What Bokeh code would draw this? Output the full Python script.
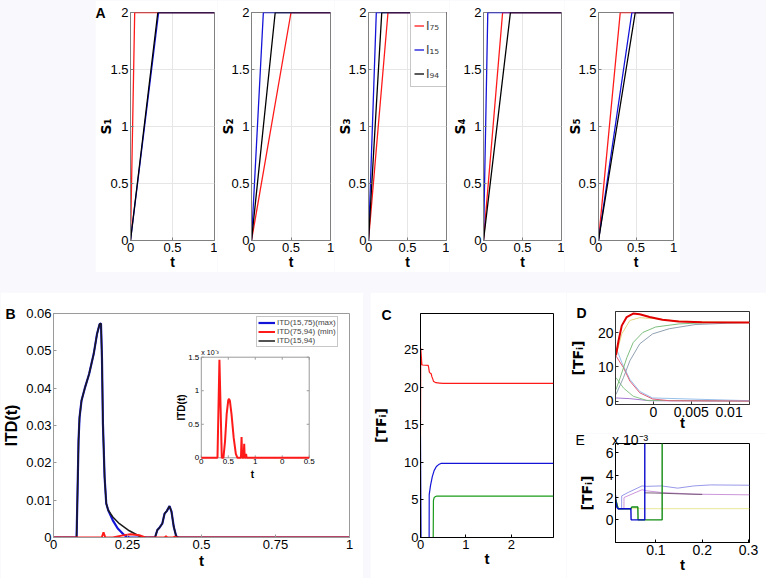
import math
from bokeh.plotting import figure
from bokeh.models import Range1d, Legend, LegendItem, FixedTicker, Spacer, Title
from bokeh.layouts import row, column
from bokeh.embed import file_html
from bokeh.resources import INLINE
from bokeh.core.properties import value

FONT = "Liberation Sans"
SUBFONT = "DejaVu Sans"
LAV = "#F8F8FD"
RED = "#FF1A1A"
BLUE = "#1414D8"
BLACK = "#000000"
GREEN = "#1A9A1A"

# ======================= DATA =======================
# ---- Panel A: S_k(t) for three inputs, five subplots ----
A_names = ["I\u2087\u2085", "I\u2081\u2085", "I\u2089\u2084"]
A_ylabels = ["S\u2081", "S\u2082", "S\u2083", "S\u2084", "S\u2085"]
A_xticks = [0, 0.5, 1]
A_xtick_labels = ["0", "0.5", "1"]
A_yticks = [0, 0.5, 1, 1.5, 2]
A_ytick_labels = ["0", "0.5", "1", "1.5", "2"]
A_S_max = 2.0
A_t_end = 1.0
A_tsat_I75 = [0.05, 0.50, 0.25, 0.245, 0.29]
A_tsat_I15 = [0.335, 0.15, 0.10, 0.055, 0.445]
A_tsat_I94 = [0.325, 0.30, 0.17, 0.345, 0.49]

# ---- Panel B: ITD(t) ----
B_names = ["ITD(15,75)(max)", "ITD(75,94) (min)", "ITD(15,94)"]
B_xticks = [0, 0.25, 0.5, 0.75, 1]
B_xtick_labels = ["0", "0.25", "0.5", "0.75", "1"]
B_yticks = [0, 0.01, 0.02, 0.03, 0.04, 0.05, 0.06]
B_ytick_labels = ["0", "0.01", "0.02", "0.03", "0.04", "0.05", "0.06"]
B_t_max = [0, 0.078, 0.0813, 0.0846, 0.088, 0.0947, 0.1058, 0.1203, 0.1359, 0.147,
           0.1559, 0.1604, 0.1637, 0.167, 0.1726, 0.1782, 0.1849, 0.2004, 0.2171,
           0.2394, 0.2561, 0.343, 0.3508, 0.3586, 0.3675, 0.3753, 0.382, 0.392,
           0.3987, 0.4065, 0.4143, 0.421, 1.0]
B_v_max = [0, 0, 0.0126, 0.026, 0.0322, 0.0367, 0.040, 0.0438, 0.0492, 0.0545,
           0.0572, 0.0573, 0.0483, 0.0305, 0.0162, 0.0091, 0.0073, 0.0046, 0.0024,
           0.0006, 0, 0, 0.0020, 0.0027, 0.0037, 0.0064, 0.0070, 0.0084,
           0.0069, 0.0028, 0.0004, 0, 0]
B_t_1594 = [0, 0.078, 0.0813, 0.0846, 0.088, 0.0947, 0.1058, 0.1203, 0.1359, 0.147,
            0.1559, 0.1604, 0.1637, 0.167, 0.1726, 0.1782, 0.1849, 0.2004, 0.2227,
            0.2561, 0.2895, 0.3118, 0.343, 0.3508, 0.3586, 0.3675, 0.3753, 0.382,
            0.392, 0.3987, 0.4065, 0.4143, 0.421, 1.0]
B_v_1594 = [0, 0, 0.0126, 0.026, 0.0322, 0.0367, 0.040, 0.0438, 0.0492, 0.0545,
            0.0572, 0.0573, 0.0483, 0.0305, 0.0162, 0.0091, 0.0073, 0.0055, 0.0037,
            0.0018, 0.0004, 0, 0, 0.0020, 0.0027, 0.0037, 0.0064, 0.0070,
            0.0084, 0.0069, 0.0028, 0.0004, 0, 0]
B_t_min = [0, 0.163, 0.169, 0.175, 0.20, 0.23, 0.26, 0.29, 0.31, 0.375, 0.38, 0.385,
           0.405, 0.41, 0.415, 1.0]
B_v_min = [0, 0, 0.0014, 0, 0, 0.0005, 0.0009, 0.0006, 0, 0, 0.0003, 0,
           0, 0.0002, 0, 0]
# inset (x 10^-3)
Bi_xticks = [0, 0.5, 1, 1.5, 2]
Bi_xtick_labels = ["0", "0.5", "1", "0", "0.5"]
Bi_yticks = [0, 0.5, 1, 1.5]
Bi_ytick_labels = ["0", "0.5", "1", "1.5"]
Bi_t = [0, 0.30, 0.336, 0.38, 0.41, 0.44, 0.47, 0.50, 0.514, 0.53, 0.56, 0.60, 0.64,
        0.67, 0.735, 0.746, 0.757, 0.785, 0.795, 0.805, 0.822, 0.83, 0.84, 2.0]
Bi_v = [0, 0, 1.46, 0, 0, 0.25, 0.65, 0.86, 0.88, 0.85, 0.65, 0.30, 0.06,
        0, 0, 0.31, 0, 0, 0.21, 0, 0, 0.06, 0, 0]

# ---- Panel C: [TF_i](t) ----
C_xticks = [0, 1, 2]
C_xtick_labels = ["0", "1", "2"]
C_yticks = [0, 5, 10, 15, 20, 25]
C_ytick_labels = ["0", "5", "10", "15", "20", "25"]
C_t_red = [0, 0.005, 0.012, 0.03, 0.045, 0.17, 0.18, 0.195, 0.21, 0.235, 0.25,
           0.27, 0.285, 0.31, 0.34, 0.42, 0.5, 2.93]
C_v_red = [13.5, 25.2, 24.6, 23.0, 22.95, 22.9, 22.6, 22.0, 21.9, 21.8, 21.4,
           21.1, 20.8, 20.7, 20.6, 20.55, 20.5, 20.5]
C_t_blue = [0, 0.012, 0.19, 0.192, 0.22, 0.26, 0.30, 0.35, 0.40, 0.45, 0.5, 2.93]
C_v_blue = [13.5, 0, 0, 5.7, 6.9, 8.1, 8.9, 9.45, 9.7, 9.85, 9.85, 9.85]
C_t_green = [0, 0.28, 0.285, 0.30, 0.33, 0.36, 2.93]
C_v_green = [0, 0, 4.9, 5.3, 5.45, 5.5, 5.5]

# ---- Panel D: early [TF_i](t) ----
D_xticks = [0, 0.005, 0.01]
D_xtick_labels = ["0", "0.005", "0.01"]
D_yticks = [0, 10, 20]
D_ytick_labels = ["0", "10", "20"]
D_t_red = [-0.00494, -0.0046, -0.00417, -0.00352, -0.00266, -0.0018, -0.0005, 0.0012,
           0.00335, 0.0064, 0.0127]
D_v_red = [13.4, 17.6, 22.0, 24.5, 25.5, 25.3, 24.5, 23.7, 23.2, 23.0, 22.9]
D_t_yellow = [-0.00494, -0.00417, -0.0031, -0.0018, 0.0003, 0.00335, 0.0127]
D_v_yellow = [13.2, 19.6, 23.5, 24.3, 24.0, 23.3, 22.9]
D_t_green = [-0.00494, -0.00438, -0.0035, -0.00266, -0.0014, 0.0003, 0.0034, 0.0076, 0.0127]
D_v_green = [3.4, 6.9, 12.7, 17.1, 20.0, 21.6, 22.5, 22.9, 22.9]
D_t_slate = [-0.00494, -0.00395, -0.0031, -0.0018, -0.0001, 0.0021, 0.0055, 0.0098, 0.0127]
D_v_slate = [2.0, 6.9, 11.8, 16.7, 19.6, 21.1, 22.3, 22.7, 22.9]
D_t_pink = [-0.00494, -0.00395, -0.0031, -0.0018, -0.0001, 0.0021, 0.0127]
D_v_pink = [13.2, 9.8, 5.9, 2.5, 0.7, 0.2, 0.1]
D_t_lblue = [-0.00494, -0.00417, -0.0031, -0.0018, -0.0001, 0.0127]
D_v_lblue = [15.7, 11.3, 6.4, 2.9, 1.0, 0.2]
D_t_lgreen = [-0.00494, -0.00395, -0.00266, -0.0009, 0.0127]
D_v_lgreen = [6.9, 3.9, 1.5, 0.3, 0.1]
D_t_purple = [-0.00494, -0.0031, -0.0005, 0.0127]
D_v_purple = [1.0, 0.8, 0.2, 0.1]

# ---- Panel E: [TF_i](t), x 10^-3 ----
E_xticks = [0.1, 0.2, 0.3]
E_xtick_labels = ["0.1", "0.2", "0.3"]
E_yticks = [0, 2, 4, 6]
E_ytick_labels = ["0", "2", "4", "6"]
E_t_blue = [0.0128, 0.0135, 0.016, 0.0185, 0.046, 0.0465, 0.076, 0.0761]
E_v_blue = [2.2, 1.6, 1.1, 1.0, 1.0, 0.0, 0.0, 60]
E_t_green = [0.0128, 0.0185, 0.046, 0.048, 0.061, 0.0615, 0.1135, 0.1136]
E_v_green = [1.9, 1.0, 1.0, 1.15, 1.15, 0, 0, 60]
E_t_lblue = [0.0128, 0.0185, 0.026, 0.0262, 0.04, 0.07, 0.08, 0.112, 0.147, 0.182, 0.218, 0.302]
E_v_lblue = [1.9, 1.0, 1.0, 2.15, 2.45, 3.04, 3.0, 3.04, 2.84, 3.04, 3.13, 3.1]
E_t_purple = [0.0128, 0.0185, 0.031, 0.0312, 0.07, 0.08, 0.112, 0.182, 0.302]
E_v_purple = [1.9, 1.0, 1.0, 2.0, 2.7, 2.6, 2.45, 2.3, 2.24]
E_t_dark = [0.075, 0.10, 0.15, 0.20]
E_v_dark = [2.42, 2.4, 2.33, 2.28]
E_t_yellow = [0.0128, 0.0185, 0.302]
E_v_yellow = [1.9, 1.0, 1.0]

# ======================= LAYOUT (pixel boxes on the page) =======================
A_boxes = [(95, 0, 217, 272), (217, 0, 334, 272), (334, 0, 449, 272),
           (449, 0, 564, 272), (564, 0, 680, 272)]
A_frames = [(127, 12, 214, 240), (246, 12, 330, 240), (363, 12, 446, 240),
            (477, 12, 561, 240), (593, 12, 673, 240)]
A_ylab_standoff = [-7, -8, -8, -8, -8]
B_box, B_frame = (0, 292, 363, 578), (50, 313, 349, 537)
C_box, C_frame = (370, 292, 566, 578), (415, 312, 553, 545)
D_box, D_frame = (566, 292, 766, 433), (612, 311, 749, 404)
E_box, E_frame = (566, 433, 766, 578), (613, 443, 749, 542)
INSET = (199.3, 356.7, 308.3, 457.3)


def style_axis(ax, ticks, labels, size, color):
    ax.ticker = FixedTicker(ticks=ticks)
    ax.major_label_overrides = {t: l for t, l in zip(ticks, labels)}
    ax.major_tick_in = 3
    ax.major_tick_out = 0
    ax.minor_tick_line_color = None
    ax.axis_line_color = color
    ax.major_tick_line_color = color
    ax.major_label_text_font = FONT
    ax.major_label_text_font_size = f"{size}px"
    ax.major_label_text_color = "black"
    ax.major_label_standoff = 2


def set_label(ax, text, size, standoff, font=FONT):
    ax.axis_label = text
    ax.axis_label_text_font = font
    ax.axis_label_text_font_size = f"{size}px"
    ax.axis_label_text_font_style = "bold"
    ax.axis_label_text_color = "black"
    ax.axis_label_standoff = standoff


def mkfig(box, frame, xr, yr, xt, xl, yt, yl, size=13, outline="black", grid=False):
    p = figure(width=box[2] - box[0], height=box[3] - box[1],
               x_range=Range1d(*xr), y_range=Range1d(*yr),
               output_backend="svg", toolbar_location=None,
               min_border_left=frame[0] - box[0], min_border_right=box[2] - frame[2],
               min_border_top=frame[1] - box[1], min_border_bottom=box[3] - frame[3])
    p.background_fill_color = "white"
    p.border_fill_color = "white"
    p.outline_line_color = outline
    p.outline_line_alpha = 1
    style_axis(p.xaxis[0], xt, xl, size, outline)
    style_axis(p.yaxis[0], yt, yl, size, outline)
    if grid:
        p.xgrid.ticker = FixedTicker(ticks=xt)
        p.ygrid.ticker = FixedTicker(ticks=yt)
        p.xgrid.grid_line_color = "#E6E6E6"
        p.ygrid.grid_line_color = "#E6E6E6"
    else:
        p.xgrid.visible = False
        p.ygrid.visible = False
    return p


def panel_title(p, text, offset, standoff, size=14, bold=True):
    p.add_layout(Title(text=text, align="left", offset=offset, standoff=standoff,
                       text_font=FONT, text_font_size=f"{size}px",
                       text_font_style="bold" if bold else "normal",
                       text_color="black"), "above")


# ======================= PANEL A =======================
A_figs = []
for k in range(5):
    p = mkfig(A_boxes[k], A_frames[k], (0, A_t_end), (0, A_S_max),
              A_xticks, A_xtick_labels, A_yticks, A_ytick_labels, 13, "#808080", grid=True)
    rs = []
    for tsat, col in ((A_tsat_I75[k], RED), (A_tsat_I15[k], BLUE), (A_tsat_I94[k], BLACK)):
        r = p.line([0, tsat, A_t_end], [0, A_S_max, A_S_max], line_color=col, line_width=1.3)
        rs.append(r)
    set_label(p.yaxis[0], A_ylabels[k], 14, A_ylab_standoff[k], SUBFONT)
    set_label(p.xaxis[0], "t", 14, -1)
    if k == 0:
        panel_title(p, "A", -35, -16)
    if k == 2:
        leg = Legend(items=[LegendItem(label=n, renderers=[r]) for n, r in zip(A_names, rs)],
                     location=(42, 153))
        leg.margin = 0
        leg.padding = 3
        leg.spacing = 5
        leg.label_height = 19
        leg.glyph_height = 19
        leg.glyph_width = 10
        leg.label_standoff = 2
        leg.label_text_font = SUBFONT
        leg.label_text_font_size = "12px"
        leg.border_line_color = "#909090"
        leg.background_fill_color = "white"
        leg.background_fill_alpha = 1
        p.add_layout(leg)
    A_figs.append(p)

# ======================= PANEL B =======================
pB = mkfig(B_box, B_frame, (0, 1), (0, 0.06), B_xticks, B_xtick_labels,
           B_yticks, B_ytick_labels, 13, "#9A9A9A")
rb = pB.line(B_t_max, B_v_max, line_color=BLUE, line_width=2.2)
rk = pB.line(B_t_1594, B_v_1594, line_color="#1A1A1A", line_width=1.5)
rr = pB.line(B_t_min, B_v_min, line_color=RED, line_width=2)
legB = Legend(items=[LegendItem(label=B_names[0], renderers=[rb]),
                     LegendItem(label=B_names[1], renderers=[rr]),
                     LegendItem(label=B_names[2], renderers=[rk])],
              location=(203, 190))
legB.margin = 0
legB.padding = 1
legB.spacing = 0
legB.label_height = 9
legB.glyph_height = 9
legB.glyph_width = 17
legB.label_standoff = 2
legB.label_text_font = FONT
legB.label_text_font_size = "8px"
legB.border_line_color = "#909090"
legB.background_fill_alpha = 1
pB.add_layout(legB)
set_label(pB.yaxis[0], "ITD(t)", 16, 3)
set_label(pB.xaxis[0], "t", 15, 0)
panel_title(pB, "B", -48, -16)

# inset drawn with extra ranges mapped onto the inset rectangle
kx = (Bi_xticks[-1] - Bi_xticks[0]) / (INSET[2] - INSET[0])
ky = (Bi_yticks[-1] - Bi_yticks[0]) / (INSET[3] - INSET[1])
pB.extra_x_ranges = {"ix": Range1d(-(INSET[0] - B_frame[0]) * kx,
                                   Bi_xticks[-1] + (B_frame[2] - INSET[2]) * kx)}
pB.extra_y_ranges = {"iy": Range1d(-(B_frame[3] - INSET[3]) * ky,
                                   Bi_yticks[-1] + (INSET[1] - B_frame[1]) * ky)}
ir = dict(x_range_name="ix", y_range_name="iy")
pB.quad(left=[Bi_xticks[0]], right=[Bi_xticks[-1]], bottom=[Bi_yticks[0]], top=[Bi_yticks[-1]],
        fill_color="white", line_color="#9A9A9A", line_width=1, **ir)
tl = 2.5
x0i, x1i, y0i, y1i = Bi_xticks[0], Bi_xticks[-1], Bi_yticks[0], Bi_yticks[-1]
pB.segment(x0=Bi_xticks, y0=[y0i] * 5, x1=Bi_xticks, y1=[y0i + tl * ky] * 5, line_color="#9A9A9A", **ir)
pB.segment(x0=Bi_xticks, y0=[y1i] * 5, x1=Bi_xticks, y1=[y1i - tl * ky] * 5, line_color="#9A9A9A", **ir)
pB.segment(x0=[x0i] * 4, y0=Bi_yticks, x1=[x0i + tl * kx] * 4, y1=Bi_yticks, line_color="#9A9A9A", **ir)
pB.segment(x0=[x1i] * 4, y0=Bi_yticks, x1=[x1i - tl * kx] * 4, y1=Bi_yticks, line_color="#9A9A9A", **ir)
pB.line(Bi_t, Bi_v, line_color=RED, line_width=2, **ir)
pB.text(x=[x0i] * 4, y=Bi_yticks, text=Bi_ytick_labels, x_offset=-2, text_align="right",
        text_baseline="middle", text_font=value(FONT), text_font_size="8px", text_color="black", **ir)
pB.text(x=Bi_xticks, y=[y0i] * 5, text=Bi_xtick_labels, y_offset=1, text_align="center",
        text_baseline="top", text_font=value(FONT), text_font_size="8px", text_color="black", **ir)
pB.text(x=[x0i], y=[y1i], text=["x 10\u207b\u00b3"], y_offset=-1, text_align="left",
        text_baseline="bottom", text_font=value(FONT), text_font_size="7px", text_color="black", **ir)
pB.text(x=[(179.5 - INSET[0]) * kx], y=[(INSET[3] - 407) * ky], text=["ITD(t)"], angle=math.pi / 2,
        text_align="center", text_baseline="middle", text_font=value(FONT), text_font_size="10px",
        text_font_style="bold", text_color="black", **ir)
pB.text(x=[(251 - INSET[0]) * kx], y=[(INSET[3] - 474) * ky], text=["t"],
        text_align="center", text_baseline="middle", text_font=value(FONT), text_font_size="10px",
        text_font_style="bold", text_color="black", **ir)

# ======================= PANEL C =======================
pC = mkfig(C_box, C_frame, (0, 2.93), (0, 29.8), C_xticks, C_xtick_labels,
           C_yticks, C_ytick_labels, 13, "black")
pC.line(C_t_green, C_v_green, line_color=GREEN, line_width=1.2)
pC.line(C_t_blue, C_v_blue, line_color=BLUE, line_width=1.2)
pC.line(C_t_red, C_v_red, line_color=RED, line_width=1.2)
set_label(pC.yaxis[0], "[TF\u1d62]", 14, 12, SUBFONT)
set_label(pC.xaxis[0], "t", 15, -2)
panel_title(pC, "C", -39, -18)

# ======================= PANEL D =======================
pD = mkfig(D_box, D_frame, (-0.005, 0.0127), (-0.9, 26.1), D_xticks, D_xtick_labels,
           D_yticks, D_ytick_labels, 14, "#333333")
for t, v, c, w in ((D_t_purple, D_v_purple, "#9A6ACF", 0.9), (D_t_lgreen, D_v_lgreen, "#7CC07C", 0.9),
                   (D_t_lblue, D_v_lblue, "#8CB8E8", 0.9), (D_t_pink, D_v_pink, "#E0607A", 1.0),
                   (D_t_slate, D_v_slate, "#8496A8", 0.9), (D_t_green, D_v_green, "#6FB56F", 0.9),
                   (D_t_yellow, D_v_yellow, "#E0D070", 0.9), (D_t_red, D_v_red, "#E00000", 2.0)):
    pD.line(t, v, line_color=c, line_width=w)
set_label(pD.yaxis[0], "[TF\u1d62]", 14, 9, SUBFONT)
set_label(pD.xaxis[0], "t", 15, -6)
panel_title(pD, "D", -39, -18)

# ======================= PANEL E =======================
pE = mkfig(E_box, E_frame, (0.0128, 0.302), (-2.03, 6.84), E_xticks, E_xtick_labels,
           E_yticks, E_ytick_labels, 14, "black")
for t, v, c, w in ((E_t_yellow, E_v_yellow, "#E6E68C", 0.9), (E_t_lblue, E_v_lblue, "#8C8CE6", 0.9),
                   (E_t_purple, E_v_purple, "#C68AD6", 0.9), (E_t_dark, E_v_dark, "#5A3A5A", 0.8),
                   (E_t_green, E_v_green, "#108A10", 1.4), (E_t_blue, E_v_blue, "#0A0ACC", 1.4)):
    pE.line(t, v, line_color=c, line_width=w)
set_label(pE.yaxis[0], "[TF\u1d62]", 14, 8, SUBFONT)
set_label(pE.xaxis[0], "t", 15, -2)
panel_title(pE, "E" + "\u00a0" * 7 + "x 10\u207b\u00b3", -40, -8, 14, bold=False)

# ======================= ASSEMBLE =======================
def sp(w, h):
    return Spacer(width=w, height=h, styles={"background-color": LAV})

top = row(sp(95, 272), *A_figs, sp(86, 272))
gap = sp(766, 20)
bottom = row(pB, sp(7, 286), pC, column(pD, pE))
root = column(top, gap, bottom, styles={"background-color": LAV})

open("out.html", "w").write(file_html(root, INLINE))
